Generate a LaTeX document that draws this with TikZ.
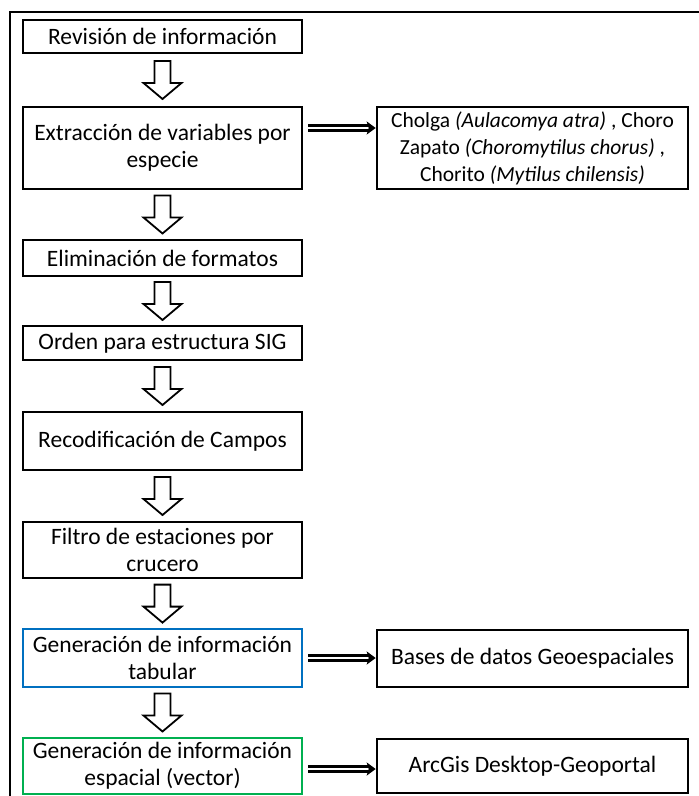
\documentclass[tikz,border=0pt]{standalone}
\usepackage{fontspec}
\setmainfont{Carlito}
\usetikzlibrary{calc,arrows.meta}

\definecolor{boxblue}{RGB}{0,112,192}
\definecolor{boxgreen}{RGB}{0,176,80}

\tikzset{
  stepbox/.style={draw=black, line width=2.6pt, fill=white, align=center,
    inner sep=2pt, minimum width=279pt,
    font=\fontsize{23.5}{27}\selectfont},
  sidebox/.style={stepbox, minimum width=311pt},
  blockarrow/.style={draw=black, line width=1.8pt, fill=white, line join=miter},
  dblarrow/.style={draw=black, line width=2.4pt, double=white, double distance=2.6pt,
    -{Stealth[length=9pt,width=13pt,inset=2pt]}},
  pics/blockdown/.style={code={
    \path[blockarrow] (-8,-19) -- (8,-19) -- (8,3) -- (19,3) -- (0,19)
      -- (-19,3) -- (-8,3) -- cycle;}}
}

\begin{document}
\begin{tikzpicture}[x=1pt,y=-1pt]
  \useasboundingbox (0,0) rectangle (699,796);

  % outer frame (left and top edges)
  \draw[line width=1.8pt] (10,800) -- (10,12) -- (702,12);

  % main column
  \node[stepbox, minimum height=33pt] (b1) at (162.5,36.5) {Revisión de información};
  \node[stepbox, minimum height=82pt] (b2) at (162.5,148) {Extracción de variables por\\especie};
  \node[stepbox, minimum height=36pt] (b3) at (162.5,258) {Eliminación de formatos};
  \node[stepbox, minimum height=34pt] (b4) at (162.5,343) {Orden para estructura SIG};
  \node[stepbox, minimum height=58pt] (b5) at (162.5,441) {Recodificación de Campos};
  \node[stepbox, minimum height=56pt] (b6) at (162.5,550) {Filtro de estaciones por\\crucero};
  \node[stepbox, draw=boxblue, line width=2.2pt, minimum height=58pt] (b7) at (162.5,658) {Generación de información\\tabular};
  \node[stepbox, draw=boxgreen, line width=2.2pt, minimum height=56pt] (b8) at (162.5,766) {Generación de información\\espacial (vector)};

  % side column
  \node[sidebox, minimum height=82pt, font=\fontsize{21.5}{27}\selectfont] (r1) at (532.5,148)
    {Cholga \textit{(Aulacomya atra)} , Choro\\Zapato \textit{(Choromytilus chorus)} ,\\Chorito \textit{(Mytilus chilensis)}};
  \node[sidebox, minimum height=57pt] (r2) at (532.5,658.5) {Bases de datos Geoespaciales};
  \node[sidebox, minimum height=54pt] (r3) at (532.5,766) {ArcGis Desktop-Geoportal};

  % block arrows between steps
  \foreach \a/\b in {b1/b2,b2/b3,b3/b4,b4/b5,b5/b6,b6/b7,b7/b8}
    \pic at ($(\a.south)!0.5!(\b.north)$) {blockdown};

  % side outputs
  \draw[dblarrow] ($(b2.east)+(5,-20)$) -- ($(r1.west)+(0,-20)$);
  \draw[dblarrow] ($(b7.east)+(5,0)$) -- (r2.west |- b7.east);
  \draw[dblarrow] ($(b8.east)+(5,3)$) -- ($(r3.west |- b8.east)+(0,3)$);
\end{tikzpicture}
\end{document}
